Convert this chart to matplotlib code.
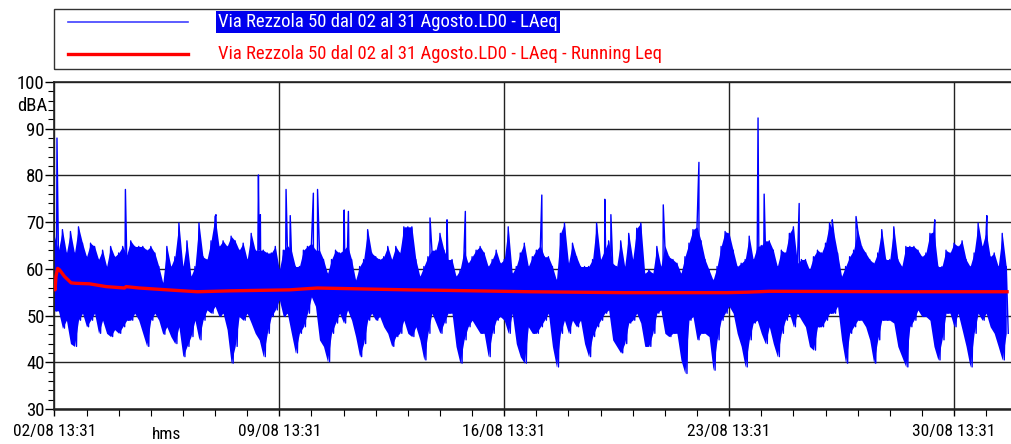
import numpy as np
import matplotlib
matplotlib.use("Agg")
import matplotlib.pyplot as plt
from matplotlib import font_manager
from matplotlib.patches import Rectangle
from matplotlib.lines import Line2D
from matplotlib.ticker import MultipleLocator, FixedLocator

# --- data ------------------------------------------------------------------
# time axis in days since 02/08 13:31, one hi/lo pair every 3 hours
STEP = 1.0 / 8.0
laeq_hi = [
    67, 64, 68.4, 63.4, 68, 63.4, 69, 65.5, 62.6, 65.5, 64.8, 62, 64, 60.5, 64.8, 62.6,
    63.4, 64.8, 63, 66, 64.8, 64.8, 64.8, 64, 64.8, 63.4, 60.5, 57,
    64.8, 60.5, 62.6, 69.8, 60.5, 66, 58.4, 60.5, 69.8, 62.6, 62, 66, 71.2, 64.8, 66, 64.8,
    67, 66, 64, 65.5, 62, 67.6, 64, 64, 64, 63.4, 63.4, 64.8, 59.8, 64,
    65, 64, 60.5, 60.5, 64, 64.8, 65.5, 64, 64, 62, 59, 62, 64, 63.4, 64, 65,
    62, 57.6, 60.5, 62, 68.4, 63.4, 62.6, 62, 62.6, 64.8, 62, 64.8, 63.4, 69,
    69, 69, 62, 58.4, 60.5, 62.6, 64, 64, 67.6, 64, 62, 62, 58.4, 59.8, 64, 61.2,
    62.6, 64, 64.8, 63.4, 60.5, 62, 64, 61.2, 62, 69, 59, 60.5, 63.4, 65.5,
    60.5, 62.6, 64, 65, 62.6, 62.6, 60.5, 57.6, 67.6, 69.8, 61.2, 65.5, 62.6, 60.5,
    60.5, 60.5, 62, 69.8, 62, 64, 66, 61.2, 60.5, 66, 60.5, 67.6, 62, 68.7, 69.8, 59,
    59.8, 59, 64.8, 60.5, 65, 62.6, 62, 61.2, 59, 62.6, 65.5, 68.4, 69, 66, 62, 59.8,
    57.6, 60.5, 64.8, 68, 67.6, 64, 60.5, 61.2, 62, 67, 62, 64.8, 65, 66,
    66, 64, 60.5, 64, 63.4, 67.6, 69, 61.2, 62, 62, 59.8, 62.6, 64, 63.4, 65.5, 69.8,
    68, 63.4, 58.4, 60.5, 62.6, 64, 68.4, 64.8, 63.4, 62, 61.2, 63.4, 68.4,
    62, 62, 69, 62, 60.5, 64.8, 64.8, 64.8, 64, 62.6, 63.4, 67.6, 68, 60.5, 60.5, 64,
    63.4, 65.5, 64.8, 66, 62, 60.5, 63.4, 69.8, 64.8, 68, 62.6, 63.4, 60.5, 67.6, 60.5,
]
laeq_lo = [
    51, 51, 47.3, 49, 44, 43.4, 49, 50.5, 47.6, 49, 50.5, 46.2, 49, 46.2, 45.5, 47,
    46.2, 47.6, 49, 49, 50.5, 49, 46.2, 43.4, 49, 50.5, 49, 46,
    47.6, 45.5, 44, 47.6, 41.2, 43.4, 45.5, 49, 44.8, 49, 51.2, 50.5, 52, 49.8, 50.5, 47,
    39.8, 43.4, 49.8, 49, 50.5, 48.4, 46.2, 44.8, 41.2, 46.2, 49.8, 51.2, 53.4, 49.8,
    50.5, 46.2, 42, 46.2, 47.6, 50.5, 54, 52, 44.8, 43.4, 40.1, 46.2, 48.4, 50.5, 48.4, 51.2,
    49, 45.5, 41.2, 44, 49, 50.5, 49, 49.8, 47.6, 46.2, 43.4, 45.5, 46.2, 49,
    46.2, 45.5, 47.6, 44.8, 40.5, 46.2, 50.5, 48.4, 46.2, 48.4, 50.5, 50.5, 43.4, 39.8, 44.8, 47.6,
    49, 47.6, 46.2, 46.2, 41.2, 46.2, 49, 49.8, 49, 46.2, 50.5, 44, 41.2, 39.8,
    47.6, 46.2, 46.2, 47.6, 49, 50.5, 43.4, 39, 46.2, 49, 46.2, 49, 47.6, 49,
    44, 41.2, 45.5, 47.6, 49, 50.5, 51.2, 44.8, 43.4, 42, 44, 48.4, 49, 50.5, 48.4, 43.4,
    43.4, 46.2, 50.5, 51.2, 46.2, 45.5, 46.2, 46.2, 40.5, 37.6, 49, 49.8, 44.8, 46.2, 46.2, 45.5,
    38.3, 44.8, 49, 50.5, 52, 50.5, 46.2, 43.4, 39, 44.8, 48.4, 49, 46.2, 44,
    47.6, 44, 41.2, 46.2, 49, 50.5, 47.6, 50.5, 49, 47.6, 43.4, 42.6, 47.6, 47.6, 49, 50.5,
    50.5, 52, 44.8, 39.8, 46.2, 47.6, 49, 49, 47.6, 44.8, 39.8, 44.8, 49,
    49, 49, 48.4, 43.4, 41.2, 39, 47.6, 49, 51.2, 49.8, 49.8, 49, 43.4, 40.5, 44.8, 50.5,
    50.5, 47.6, 50.5, 47, 43.4, 39, 46.2, 50.5, 49, 50.5, 47.6, 46.2, 43.4, 40.5, 46.2,
]
# isolated peaks (day, dBA)
spike_days = [0.08, 2.21, 5.03, 6.35, 6.41, 7.21, 7.34, 8.06, 8.19, 9.02, 9.15, 11.69, 12.22,
              12.79, 15.17, 17.13, 17.32, 18.95, 20.06, 21.90, 22.09, 23.18, 24.21, 24.95,
              27.40, 29.02]
spike_vals = [88, 77, 71.6, 80.1, 71.6, 77, 71.4, 76.2, 77, 72.6, 72.3, 70.9, 70.5,
              72.3, 75.8, 74.9, 71.6, 73.7, 82.8, 92.3, 76, 74, 70.5, 71.2,
              70.5, 71.4]

# running Leq (red)
run_days = [0.0, 0.02, 0.05, 0.10, 0.16, 0.31, 0.52, 0.68, 1.09, 1.61, 2.18, 2.23, 2.64,
            3.53, 4.45, 5.51, 7.31, 8.18, 11.05, 12.13, 14.78, 17.73, 20.94, 21.56,
            22.25, 26.3, 29.65]
run_vals = [56.0, 55.5, 58.4, 60.1, 59.8, 58.4, 57.0, 56.9, 56.8, 56.2, 55.9, 56.2, 55.9,
            55.5, 55.1, 55.3, 55.5, 55.9, 55.5, 55.4, 55.1, 54.9, 54.9, 55.0,
            55.2, 55.1, 55.1]

week_days = [0, 7, 14, 21, 28]
week_labels = ["02/08 13:31", "09/08 13:31", "16/08 13:31", "23/08 13:31", "30/08 13:31"]
legend_labels = ["Via Rezzola 50 dal 02 al 31 Agosto.LD0 - LAeq",
                 "Via Rezzola 50 dal 02 al 31 Agosto.LD0 - LAeq - Running Leq"]

# --- build the blue trace: hi/lo samples plus peaks, in time order ----------
assert len(laeq_hi) == len(laeq_lo)
t_step = np.arange(len(laeq_hi)) * STEP
t = []
v = []
for k, (h, l) in enumerate(zip(laeq_hi, laeq_lo)):
    t.append(k * STEP)
    v.append(h)
    t.append(k * STEP + STEP / 2)
    v.append(l)
t += spike_days
v += spike_vals
order = np.argsort(t, kind="stable")
t = np.asarray(t)[order]
v = np.asarray(v)[order]

# narrow Helvetica-like face if one is around
names = {f.name for f in font_manager.fontManager.ttflist}
FONT = "Liberation Sans"
for cand in ["Nimbus Sans Narrow", "Liberation Sans Narrow", "Arial Narrow",
             "Roboto Condensed", "PT Sans Narrow", "Archivo Narrow"]:
    if cand in names:
        FONT = cand
        break
plt.rcParams["font.family"] = [FONT, "DejaVu Sans"]
FS = 13.5

W, H = 1012, 444
fig = plt.figure(figsize=(W / 100, H / 100), dpi=100)

x0, x1, ytop, ybot = 54.4, 1012, 82, 409
ax = fig.add_axes([x0 / W, 1 - ybot / H, (x1 - x0) / W, (ybot - ytop) / H])

BLUE = "#0000ff"
RED = "#ff0000"
ax.fill_between(t_step, laeq_lo, laeq_hi, color=BLUE, lw=0, zorder=2)
ax.plot(t, v, color=BLUE, lw=1.0, zorder=2)
ax.plot(run_days, run_vals, color=RED, lw=2.4, zorder=3)

ax.set_xlim(0, (x1 - x0) / 32.13)
ax.set_ylim(30, 100)

ax.yaxis.set_major_locator(MultipleLocator(10))
ax.yaxis.set_minor_locator(MultipleLocator(2))
ax.xaxis.set_major_locator(FixedLocator(week_days))
ax.xaxis.set_minor_locator(MultipleLocator(1))
ax.set_xticklabels(week_labels)
ax.tick_params(axis="y", which="major", length=6.5, width=1, pad=0.5, labelsize=FS, direction="out")
ax.tick_params(axis="y", which="minor", length=4, width=0.8, direction="out")
ax.tick_params(axis="x", which="major", length=5, width=1, pad=6, labelsize=12.5, direction="out")
ax.tick_params(axis="x", which="minor", length=5, width=0.8, direction="out")

ax.grid(True, which="major", color="#222222", lw=1.0, zorder=1)
ax.set_axisbelow(True)
for side in ("left", "top", "bottom"):
    ax.spines[side].set_color("#222222")
ax.spines["left"].set_linewidth(1.2)
ax.spines["top"].set_linewidth(1.2)
ax.spines["bottom"].set_linewidth(1.8)
ax.spines["right"].set_visible(False)

fig.text(47 / W, 1 - 106 / H, "dBA", ha="right", va="center", fontsize=FS)
fig.text(167 / W, 1 - 434 / H, "hms", ha="center", va="center", fontsize=12.5)

# legend box drawn by hand, first entry highlighted like in the source
fig.patches.append(Rectangle((54.5 / W, 1 - 69.5 / H), 1.0, 60.5 / H, transform=fig.transFigure,
                             fill=False, ec="#333333", lw=1.0))
fig.lines.append(Line2D([68 / W, 188 / W], [1 - 22 / H, 1 - 22 / H], transform=fig.transFigure,
                        color="#4040ff", lw=1.2))
fig.lines.append(Line2D([68 / W, 188 / W], [1 - 54 / H, 1 - 54 / H], transform=fig.transFigure,
                        color=RED, lw=2.4))
fig.text(218 / W, 1 - 22 / H, legend_labels[0], ha="left", va="center", fontsize=FS,
         color="white", bbox=dict(boxstyle="square,pad=0.12", fc="#0000ee", ec="none"))
fig.text(218 / W, 1 - 54 / H, legend_labels[1], ha="left", va="center", fontsize=FS, color=RED)

fig.savefig("out.png", dpi=100)
